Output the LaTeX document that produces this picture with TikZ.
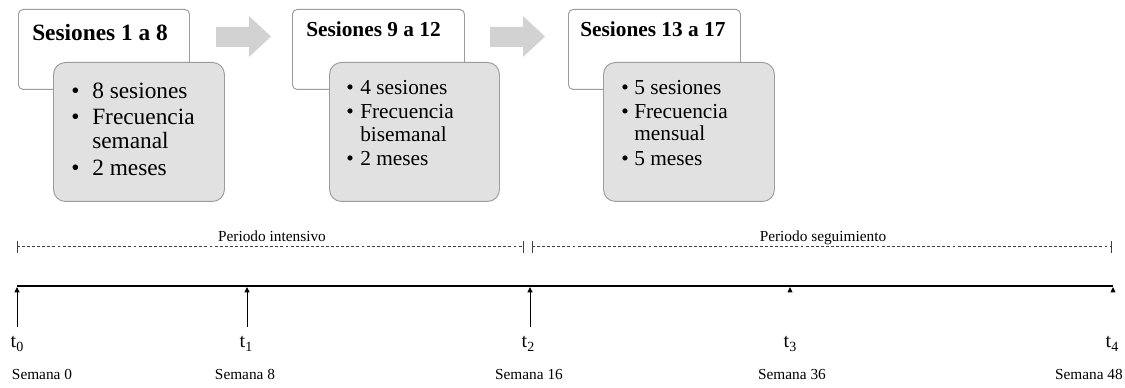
\documentclass[tikz,border=0pt]{standalone}
\usepackage{fontspec}
\setmainfont{Liberation Serif}
\usetikzlibrary{arrows.meta}
\definecolor{boxline}{HTML}{9C9C9C}
\definecolor{cardfill}{HTML}{E1E1E1}
\definecolor{chevron}{HTML}{D2D2D2}
\definecolor{axisgray}{HTML}{404040}
\begin{document}
\begin{tikzpicture}[x=0.75pt,y=-0.75pt,
  headbox/.style={draw=boxline, fill=white, line width=0.7pt, rounded corners=3.5pt,
    anchor=north west, inner sep=0pt, minimum width=#1, minimum height=60pt},
  card/.style={draw=boxline, fill=cardfill, line width=0.7pt, rounded corners=9pt,
    anchor=north west, inner sep=0pt, minimum width=#1, minimum height=104.25pt},
  bigtitle/.style={anchor=base west, inner sep=0pt, font=\fontsize{17.5}{20}\selectfont\bfseries},
  title/.style={anchor=base west, inner sep=0pt, font=\fontsize{16}{19}\selectfont\bfseries},
  bigline/.style={anchor=base west, inner sep=0pt, font=\fontsize{17.5}{20}\selectfont},
  line/.style={anchor=base west, inner sep=0pt, font=\fontsize{16}{19}\selectfont},
  chev/.style={fill=chevron, draw=none},
  period/.style={anchor=base, inner sep=0pt, font=\fontsize{11.5}{13}\selectfont},
  week/.style={anchor=base, inner sep=0pt, font=\fontsize{11.5}{13}\selectfont},
  tlabel/.style={anchor=base, inner sep=0pt, font=\fontsize{15}{17}\selectfont},
  dashline/.style={draw=axisgray, line width=0.6pt, dash pattern=on 2.2pt off 1.6pt},
  tick/.style={draw=axisgray, line width=0.6pt},
  mark arrow/.style={draw=black, line width=0.7pt, -{Triangle[width=3.8pt,length=4pt]}}
]
\useasboundingbox (0,0) rectangle (1125,388);

% ---- phase 1: sessions 1 to 8
\node[headbox=128.25pt] (h1) at (18,9) {};
\node[card=128.25pt] (c1) at (53,62) {};
\node[bigtitle] (h1t) at (32,41) {Sesiones 1 a 8};
\node[bigline] (c1b1) at (71,99) {\textbullet};
\node[bigline] (c1l1) at (92,99) {8 sesiones};
\node[bigline] (c1b2) at (71,125) {\textbullet};
\node[bigline] (c1l2) at (92,125) {Frecuencia};
\node[bigline] (c1l3) at (92,149) {semanal};
\node[bigline] (c1b4) at (71,176) {\textbullet};
\node[bigline] (c1l4) at (92,176) {2 meses};

% ---- phase 2: sessions 9 to 12
\node[headbox=129pt] (h2) at (292,9) {};
\node[card=127.5pt] (c2) at (329,62) {};
\node[title] (h2t) at (306,37) {Sesiones 9 a 12};
\node[line] (c2b1) at (346,95) {\textbullet};
\node[line] (c2l1) at (360,95) {4 sesiones};
\node[line] (c2b2) at (346,119) {\textbullet};
\node[line] (c2l2) at (360,119) {Frecuencia};
\node[line] (c2l3) at (360,142) {bisemanal};
\node[line] (c2b4) at (346,166) {\textbullet};
\node[line] (c2l4) at (360,166) {2 meses};

% ---- phase 3: sessions 13 to 17
\node[headbox=129pt] (h3) at (568,9) {};
\node[card=128.25pt] (c3) at (603,62) {};
\node[title] (h3t) at (580,37) {Sesiones 13 a 17};
\node[line] (c3b1) at (621,95) {\textbullet};
\node[line] (c3l1) at (634,95) {5 sesiones};
\node[line] (c3b2) at (621,119) {\textbullet};
\node[line] (c3l2) at (634,119) {Frecuencia};
\node[line] (c3l3) at (634,141) {mensual};
\node[line] (c3b4) at (621,166) {\textbullet};
\node[line] (c3l4) at (634,166) {5 meses};

% ---- block arrows between phases
\fill[chev] (216,27) -- (249,27) -- (249,16) -- (271,36.5) -- (249,57) -- (249,47) -- (216,47) -- cycle;
\fill[chev] (490,27) -- (523,27) -- (523,16) -- (545,36.5) -- (523,57) -- (523,47) -- (490,47) -- cycle;

% ---- periods (dashed brackets)
\coordinate (pi0) at (17,246);
\coordinate (pi1) at (523,246);
\coordinate (ps0) at (532,246);
\coordinate (ps1) at (1111,246);
\draw[dashline] (pi0) -- (pi1);
\draw[dashline] (ps0) -- (ps1);
\foreach \c in {pi0,pi1,ps0,ps1}
  \draw[tick] ([yshift=5pt*0.75]\c) -- ([yshift=-7pt*0.75]\c);
\node[period] (pint) at (272,242) {Periodo intensivo};
\node[period] (pseg) at (823,242) {Periodo seguimiento};

% ---- time axis
\coordinate (ax0) at (17,286);
\coordinate (ax1) at (1113,286);
\draw[black, line width=0.9pt] (ax0) -- (ax1);

\coordinate (m0) at (17,287);
\coordinate (m1) at (247,287);
\coordinate (m2) at (530,287);
\coordinate (m3) at (790,287);
\coordinate (m4) at (1113,287);
\coordinate (s0) at (17,327);
\coordinate (s1) at (247,327);
\coordinate (s2) at (530,327);
\draw[mark arrow] (s0) -- (m0);
\draw[mark arrow] (s1) -- (m1);
\draw[mark arrow] (s2) -- (m2);
\fill[black] (m3) -- ++(-2.6,5.5) -- ++(5.2,0) -- cycle;
\fill[black] (m4) -- ++(-2.6,5.5) -- ++(5.2,0) -- cycle;

% ---- time point labels
\node[tlabel] (t0) at (17,348) {t\raisebox{-0.35ex}{\fontsize{10.5}{12}\selectfont 0}};
\node[tlabel] (t1) at (246,348) {t\raisebox{-0.35ex}{\fontsize{10.5}{12}\selectfont 1}};
\node[tlabel] (t2) at (528,348) {t\raisebox{-0.35ex}{\fontsize{10.5}{12}\selectfont 2}};
\node[tlabel] (t3) at (790,348) {t\raisebox{-0.35ex}{\fontsize{10.5}{12}\selectfont 3}};
\node[tlabel] (t4) at (1112,348) {t\raisebox{-0.35ex}{\fontsize{10.5}{12}\selectfont 4}};

\node[week] (w0) at (42,379) {Semana 0};
\node[week] (w1) at (245,379) {Semana 8};
\node[week] (w2) at (529,379) {Semana 16};
\node[week] (w3) at (792,379) {Semana 36};
\node[week, anchor=base east] (w4) at (1123,379) {Semana 48};
\end{tikzpicture}
\end{document}
